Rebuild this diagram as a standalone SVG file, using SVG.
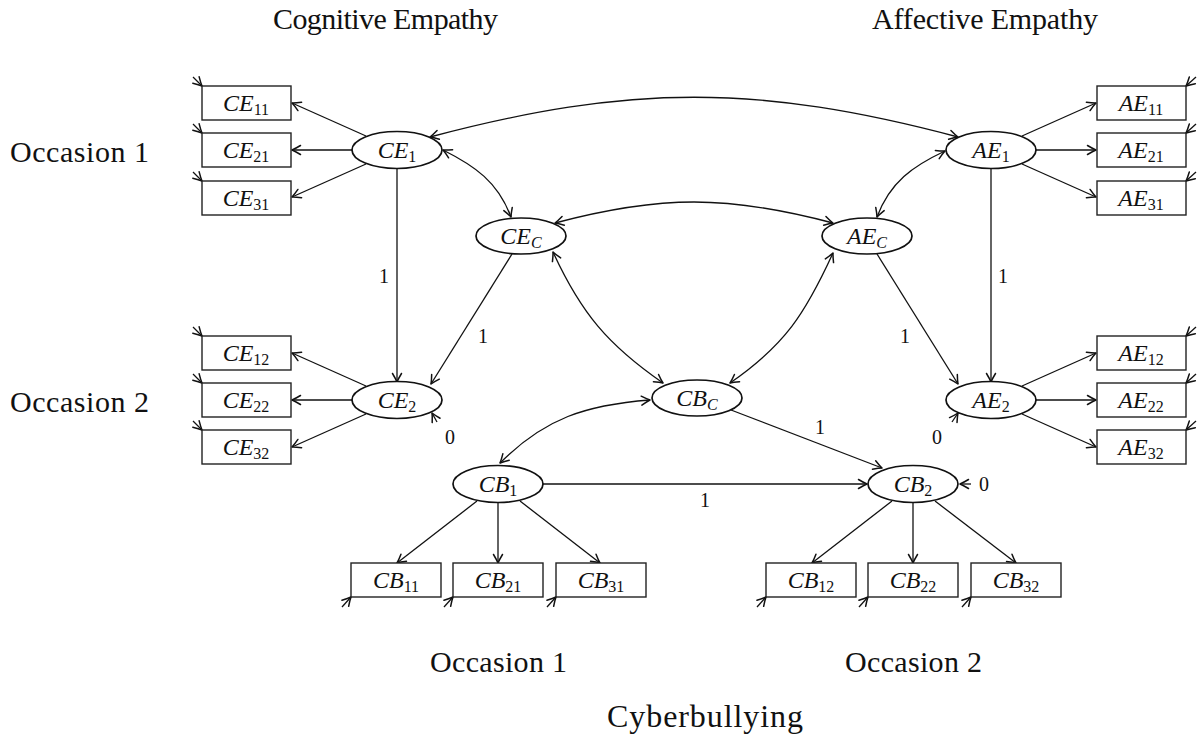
<svg xmlns="http://www.w3.org/2000/svg" width="1197" height="737" viewBox="0 0 1197 737">
<style>
.bg{fill:#fff}
.box{fill:#fff;stroke:#222;stroke-width:1.4}
.ell{fill:#fff;stroke:#111;stroke-width:1.7}
.ln{fill:none;stroke:#111;stroke-width:1.3;marker-end:url(#ah)}
.dbl{fill:none;stroke:#111;stroke-width:1.3;marker-end:url(#ah);marker-start:url(#ah)}
.m{font-family:"Liberation Serif","DejaVu Serif",serif;font-size:24px;fill:#111;text-anchor:middle}
.i{font-style:italic}
.s{font-size:16px}
.si{font-size:16px;font-style:italic}
.num{font-family:"Liberation Serif","DejaVu Serif",serif;font-size:20px;fill:#111;text-anchor:middle}
.ttl{font-family:"Liberation Serif","DejaVu Serif",serif;font-size:30px;fill:#111}
</style>
<defs>
<marker id="ah" viewBox="-10 -6 12 12" refX="0" refY="0" markerWidth="12" markerHeight="12" markerUnits="userSpaceOnUse" orient="auto-start-reverse">
<path d="M-8.5,-4.5 Q-3,-1.2 0,0 Q-3,1.2 -8.5,4.5" fill="none" stroke="#111" stroke-width="1.5" stroke-linecap="round" stroke-linejoin="round"/>
</marker>
</defs>
<rect class="bg" x="0" y="0" width="1197" height="737"/>

<g id="titles">
<text class="ttl" x="273" y="29" textLength="225">Cognitive Empathy</text>
<text class="ttl" x="872" y="29" textLength="226">Affective Empathy</text>
<text class="ttl" x="10" y="162" textLength="139">Occasion 1</text>
<text class="ttl" x="10" y="412" textLength="139">Occasion 2</text>
<text class="ttl" x="430" y="672" textLength="137">Occasion 1</text>
<text class="ttl" x="845" y="672" textLength="137">Occasion 2</text>
<text class="ttl" x="607" y="727" textLength="196" style="font-size:32px">Cyberbullying</text>
</g>

<g id="connectors">
<line class="ln" x1="366" y1="136" x2="292" y2="103"/>
<line class="ln" x1="352" y1="150" x2="292" y2="150"/>
<line class="ln" x1="366" y1="164" x2="292" y2="197"/>
<line class="ln" x1="366" y1="386" x2="292" y2="353"/>
<line class="ln" x1="352" y1="400" x2="292" y2="400"/>
<line class="ln" x1="366" y1="414" x2="292" y2="447"/>
<line class="ln" x1="1022" y1="136" x2="1096" y2="103"/>
<line class="ln" x1="1036" y1="150" x2="1096" y2="150"/>
<line class="ln" x1="1022" y1="164" x2="1096" y2="197"/>
<line class="ln" x1="1022" y1="386" x2="1096" y2="353"/>
<line class="ln" x1="1036" y1="400" x2="1096" y2="400"/>
<line class="ln" x1="1022" y1="414" x2="1096" y2="447"/>
<line class="ln" x1="477" y1="501" x2="397" y2="563"/>
<line class="ln" x1="498" y1="503" x2="498" y2="563"/>
<line class="ln" x1="520" y1="501" x2="600" y2="563"/>
<line class="ln" x1="892" y1="501" x2="812" y2="563"/>
<line class="ln" x1="913" y1="503" x2="913" y2="563"/>
<line class="ln" x1="935" y1="501" x2="1016" y2="563"/>
<line class="ln" x1="397" y1="169" x2="397" y2="382"/>
<line class="ln" x1="991" y1="169" x2="991" y2="382"/>
<line class="ln" x1="512" y1="254" x2="431" y2="384"/>
<line class="ln" x1="877" y1="254" x2="958" y2="384"/>
<line class="ln" x1="731" y1="410" x2="882" y2="468"/>
<line class="ln" x1="543" y1="484" x2="867" y2="484"/>
<path class="dbl" d="M430,137 C630,84 758,84 958,137"/>
<path class="dbl" d="M443,150 C475,166 498,182 511,217"/>
<path class="dbl" d="M945,151 C913,166 890,182 877,217"/>
<path class="dbl" d="M555,223 C660,195 728,195 833,223"/>
<path class="dbl" d="M553,252 C581,313 608,345 663,383"/>
<path class="dbl" d="M833,253 C805,314 785,345 730,383"/>
<path class="dbl" d="M500,463 C545,418 586,405 650,400"/>
<line class="ln" x1="193" y1="77" x2="202" y2="86"/>
<line class="ln" x1="193" y1="124" x2="202" y2="133"/>
<line class="ln" x1="193" y1="172" x2="202" y2="181"/>
<line class="ln" x1="193" y1="327" x2="202" y2="336"/>
<line class="ln" x1="193" y1="374" x2="202" y2="383"/>
<line class="ln" x1="193" y1="421" x2="202" y2="430"/>
<line class="ln" x1="1196" y1="77" x2="1186" y2="86"/>
<line class="ln" x1="1196" y1="124" x2="1186" y2="133"/>
<line class="ln" x1="1196" y1="172" x2="1186" y2="181"/>
<line class="ln" x1="1196" y1="327" x2="1186" y2="336"/>
<line class="ln" x1="1196" y1="374" x2="1186" y2="383"/>
<line class="ln" x1="1196" y1="421" x2="1186" y2="430"/>
<line class="ln" x1="342" y1="607" x2="351" y2="597"/>
<line class="ln" x1="444" y1="607" x2="453" y2="597"/>
<line class="ln" x1="547" y1="607" x2="556" y2="597"/>
<line class="ln" x1="757" y1="607" x2="766" y2="597"/>
<line class="ln" x1="859" y1="607" x2="868" y2="597"/>
<line class="ln" x1="962" y1="607" x2="971" y2="597"/>
<line class="ln" x1="437" y1="422" x2="432" y2="413"/>
<line class="ln" x1="952" y1="422" x2="958" y2="413"/>
<line class="ln" x1="971" y1="484" x2="960" y2="484"/>
<text class="num" x="384" y="283">1</text>
<text class="num" x="483" y="343">1</text>
<text class="num" x="1003" y="283">1</text>
<text class="num" x="905" y="343">1</text>
<text class="num" x="820" y="434">1</text>
<text class="num" x="705" y="507">1</text>
<text class="num" x="450" y="444">0</text>
<text class="num" x="937" y="444">0</text>
<text class="num" x="984" y="491">0</text>
</g>

<g id="CE11"><rect class="box" x="202" y="86" width="89" height="34"/><text class="m" x="246" y="111"><tspan class="i">CE</tspan><tspan class="s" dy="4">11</tspan></text></g>
<g id="CE21"><rect class="box" x="202" y="133" width="89" height="34"/><text class="m" x="246" y="158"><tspan class="i">CE</tspan><tspan class="s" dy="4">21</tspan></text></g>
<g id="CE31"><rect class="box" x="202" y="181" width="89" height="34"/><text class="m" x="246" y="206"><tspan class="i">CE</tspan><tspan class="s" dy="4">31</tspan></text></g>
<g id="CE12"><rect class="box" x="202" y="336" width="89" height="34"/><text class="m" x="246" y="361"><tspan class="i">CE</tspan><tspan class="s" dy="4">12</tspan></text></g>
<g id="CE22"><rect class="box" x="202" y="383" width="89" height="34"/><text class="m" x="246" y="408"><tspan class="i">CE</tspan><tspan class="s" dy="4">22</tspan></text></g>
<g id="CE32"><rect class="box" x="202" y="430" width="89" height="34"/><text class="m" x="246" y="455"><tspan class="i">CE</tspan><tspan class="s" dy="4">32</tspan></text></g>

<g id="AE11"><rect class="box" x="1097" y="86" width="89" height="34"/><text class="m" x="1141" y="111"><tspan class="i">AE</tspan><tspan class="s" dy="4">11</tspan></text></g>
<g id="AE21"><rect class="box" x="1097" y="133" width="89" height="34"/><text class="m" x="1141" y="158"><tspan class="i">AE</tspan><tspan class="s" dy="4">21</tspan></text></g>
<g id="AE31"><rect class="box" x="1097" y="181" width="89" height="34"/><text class="m" x="1141" y="206"><tspan class="i">AE</tspan><tspan class="s" dy="4">31</tspan></text></g>
<g id="AE12"><rect class="box" x="1097" y="336" width="89" height="34"/><text class="m" x="1141" y="361"><tspan class="i">AE</tspan><tspan class="s" dy="4">12</tspan></text></g>
<g id="AE22"><rect class="box" x="1097" y="383" width="89" height="34"/><text class="m" x="1141" y="408"><tspan class="i">AE</tspan><tspan class="s" dy="4">22</tspan></text></g>
<g id="AE32"><rect class="box" x="1097" y="430" width="89" height="34"/><text class="m" x="1141" y="455"><tspan class="i">AE</tspan><tspan class="s" dy="4">32</tspan></text></g>

<g id="CB11"><rect class="box" x="351" y="563" width="90" height="34"/><text class="m" x="396" y="588"><tspan class="i">CB</tspan><tspan class="s" dy="4">11</tspan></text></g>
<g id="CB21"><rect class="box" x="453" y="563" width="90" height="34"/><text class="m" x="498" y="588"><tspan class="i">CB</tspan><tspan class="s" dy="4">21</tspan></text></g>
<g id="CB31"><rect class="box" x="556" y="563" width="90" height="34"/><text class="m" x="601" y="588"><tspan class="i">CB</tspan><tspan class="s" dy="4">31</tspan></text></g>
<g id="CB12"><rect class="box" x="766" y="563" width="90" height="34"/><text class="m" x="811" y="588"><tspan class="i">CB</tspan><tspan class="s" dy="4">12</tspan></text></g>
<g id="CB22"><rect class="box" x="868" y="563" width="90" height="34"/><text class="m" x="913" y="588"><tspan class="i">CB</tspan><tspan class="s" dy="4">22</tspan></text></g>
<g id="CB32"><rect class="box" x="971" y="563" width="90" height="34"/><text class="m" x="1016" y="588"><tspan class="i">CB</tspan><tspan class="s" dy="4">32</tspan></text></g>

<g id="CE1"><ellipse class="ell" cx="397" cy="150" rx="45" ry="18.5"/><text class="m" x="397" y="158"><tspan class="i">CE</tspan><tspan class="s" dy="4">1</tspan></text></g>
<g id="CE2"><ellipse class="ell" cx="397" cy="400" rx="45" ry="18.5"/><text class="m" x="397" y="408"><tspan class="i">CE</tspan><tspan class="s" dy="4">2</tspan></text></g>
<g id="AE1"><ellipse class="ell" cx="991" cy="150" rx="45" ry="18.5"/><text class="m" x="991" y="158"><tspan class="i">AE</tspan><tspan class="s" dy="4">1</tspan></text></g>
<g id="AE2"><ellipse class="ell" cx="991" cy="400" rx="45" ry="18.5"/><text class="m" x="991" y="408"><tspan class="i">AE</tspan><tspan class="s" dy="4">2</tspan></text></g>
<g id="CEC"><ellipse class="ell" cx="521" cy="236" rx="45" ry="18"/><text class="m" x="521" y="244"><tspan class="i">CE</tspan><tspan class="si" dy="4">C</tspan></text></g>
<g id="AEC"><ellipse class="ell" cx="867" cy="236" rx="45" ry="18"/><text class="m" x="867" y="244"><tspan class="i">AE</tspan><tspan class="si" dy="4">C</tspan></text></g>
<g id="CBC"><ellipse class="ell" cx="697" cy="398" rx="45" ry="18"/><text class="m" x="697" y="406"><tspan class="i">CB</tspan><tspan class="si" dy="4">C</tspan></text></g>
<g id="CB1"><ellipse class="ell" cx="498" cy="484" rx="45" ry="18.5"/><text class="m" x="498" y="492"><tspan class="i">CB</tspan><tspan class="s" dy="4">1</tspan></text></g>
<g id="CB2"><ellipse class="ell" cx="913" cy="484" rx="45" ry="18.5"/><text class="m" x="913" y="492"><tspan class="i">CB</tspan><tspan class="s" dy="4">2</tspan></text></g>
</svg>
